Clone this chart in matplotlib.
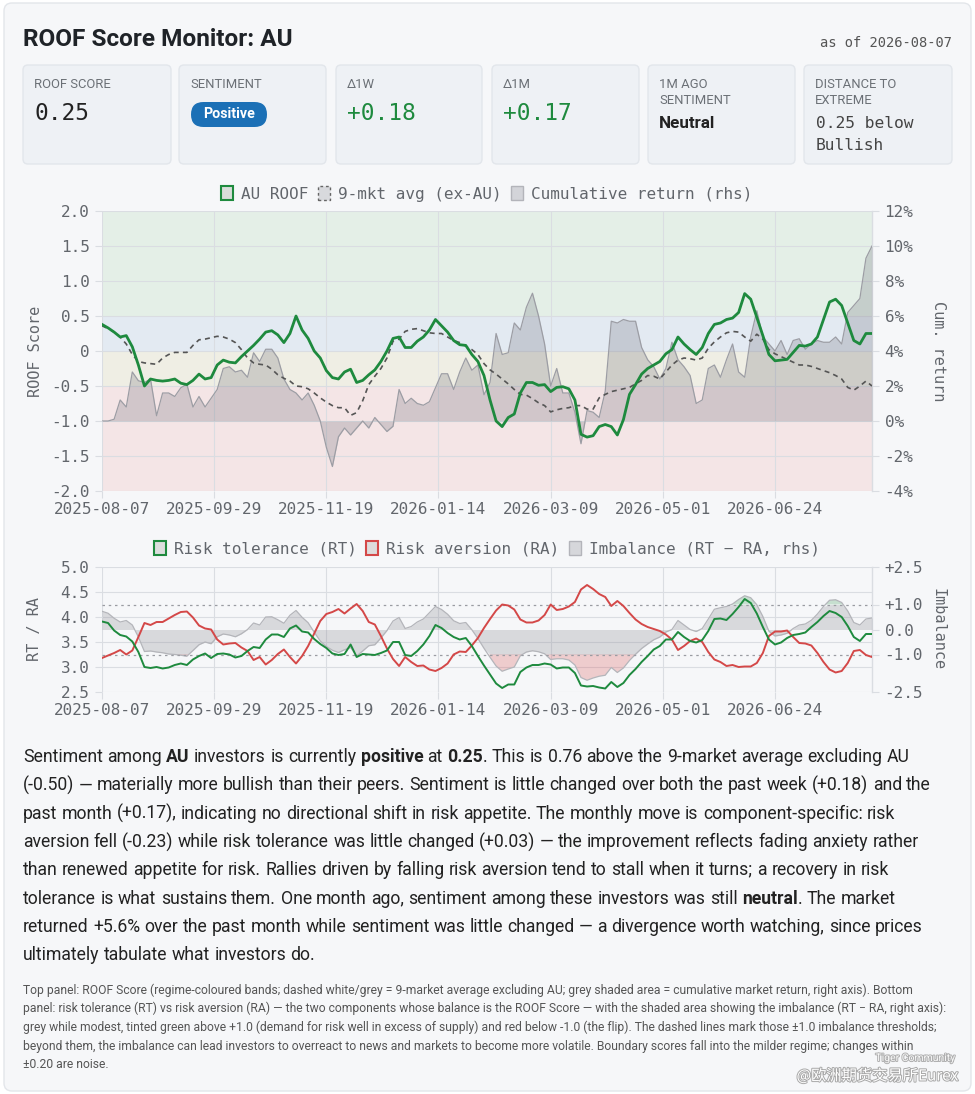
import re
import numpy as np
import pandas as pd
import matplotlib
matplotlib.use("Agg")
import matplotlib.pyplot as plt
from matplotlib import font_manager
from matplotlib.patches import FancyBboxPatch, Rectangle, Patch
from matplotlib.transforms import blended_transform_factory
import matplotlib.patheffects as pe

W, H = 975, 1094
MONO = "DejaVu Sans Mono"
plt.rcParams["font.family"] = MONO
plt.rcParams["axes.unicode_minus"] = False


def pick_sans():
    # first family that really has both a regular and a bold face
    faces = {}
    for f in font_manager.fontManager.ttflist:
        w = f.weight if isinstance(f.weight, int) else 400
        faces.setdefault(f.name, set()).add(w)
    for name in ["IBM Plex Sans", "Roboto", "Inter", "Open Sans", "Lato",
                 "Noto Sans", "Liberation Sans", "DejaVu Sans"]:
        ws = faces.get(name, set())
        if any(w <= 450 for w in ws) and any(w >= 600 for w in ws):
            return name
    return "DejaVu Sans"


SANS = pick_sans()

# ---------------------------------------------------------------- data
# ASX sessions, one value read every second session
START, END = "2025-08-07", "2026-08-07"
ASX_HOLIDAYS = ["2025-12-25", "2025-12-26", "2026-01-01", "2026-01-26",
                "2026-04-03", "2026-04-06", "2026-06-08"]
STEP = 2
TICK_EVERY = 37

roof = [0.38, 0.33, 0.27, 0.20, 0.22, 0.06, -0.20, -0.50, -0.40, -0.42, -0.43, -0.42, -0.40, -0.46, -0.48, -0.42,
        -0.33, -0.40, -0.38, -0.20, -0.13, -0.16, -0.17, -0.08, 0.00, 0.08, 0.17, 0.27, 0.29, 0.23, 0.12, 0.25,
        0.50, 0.30, 0.18, 0.00, -0.10, -0.28, -0.38, -0.40, -0.30, -0.26, -0.45, -0.42, -0.34, -0.27, -0.15, 0.00,
        0.18, 0.20, 0.05, 0.05, 0.14, 0.20, 0.30, 0.45, 0.36, 0.27, 0.15, 0.09, 0.08, -0.05, -0.15, -0.35,
        -0.70, -1.00, -1.08, -0.95, -0.90, -0.60, -0.45, -0.45, -0.49, -0.48, -0.58, -0.52, -0.51, -0.54, -0.70, -1.19,
        -1.23, -1.21, -1.08, -1.05, -1.08, -1.20, -0.98, -0.62, -0.48, -0.33, -0.25, -0.20, -0.15, -0.04, 0.02, 0.20,
        0.10, 0.02, -0.05, 0.05, 0.25, 0.38, 0.40, 0.45, 0.47, 0.55, 0.82, 0.74, 0.48, 0.22, -0.05, -0.14,
        -0.13, -0.12, -0.02, 0.08, 0.07, 0.10, 0.20, 0.45, 0.70, 0.74, 0.65, 0.40, 0.15, 0.10, 0.25, 0.25]

avg_ex_au = [0.36, 0.32, 0.27, 0.20, 0.10, -0.05, -0.15, -0.17, -0.18, -0.19, -0.10, -0.05, -0.02, -0.02, -0.02, 0.08,
             0.16, 0.17, 0.19, 0.21, 0.20, 0.17, 0.12, 0.02, -0.10, -0.17, -0.19, -0.20, -0.26, -0.34, -0.39, -0.43,
             -0.50, -0.51, -0.54, -0.60, -0.67, -0.73, -0.78, -0.81, -0.81, -0.92, -0.88, -0.71, -0.48, -0.36, -0.25, -0.10,
             0.14, 0.17, 0.28, 0.31, 0.32, 0.29, 0.26, 0.25, 0.25, 0.20, 0.15, 0.12, 0.07, 0.02, -0.05, -0.18,
             -0.27, -0.33, -0.40, -0.47, -0.55, -0.62, -0.63, -0.68, -0.74, -0.78, -0.87, -0.84, -0.82, -0.81, -0.78, -0.78,
             -0.83, -0.83, -0.67, -0.62, -0.58, -0.56, -0.54, -0.52, -0.47, -0.42, -0.35, -0.36, -0.40, -0.30, -0.20, -0.13,
             -0.10, -0.11, -0.13, -0.10, 0.04, 0.13, 0.20, 0.26, 0.28, 0.27, 0.20, 0.14, 0.24, 0.17, 0.02, -0.04,
             -0.08, -0.12, -0.16, -0.20, -0.20, -0.22, -0.25, -0.28, -0.31, -0.35, -0.40, -0.52, -0.56, -0.50, -0.43, -0.50]

cum_return = [0.0, 0.0, 0.1, 1.2, 0.8, 2.8, 2.3, 2.2, 2.4, 0.3, 1.6, 1.6, 1.4, 1.9, 2.1, 0.8,
              1.4, 0.8, 1.3, 1.8, 3.0, 3.1, 2.8, 2.9, 2.5, 3.9, 3.4, 4.1, 4.1, 3.6, 2.4, 1.8,
              1.6, 1.2, 1.6, 0.9, 0.0, -1.5, -2.6, -0.9, -0.4, -0.8, -0.4, 0.0, -0.4, 0.2, -0.2, -0.6,
              -0.3, 1.8, 1.0, 1.3, 1.0, 0.9, 1.1, 1.9, 2.7, 2.7, 1.8, 2.8, 3.6, 2.9, 3.2, 1.5,
              2.2, 5.0, 3.8, 3.9, 5.6, 5.2, 6.5, 7.3, 6.0, 4.4, 2.0, 3.0, 1.6, 1.6, 0.5, -1.3,
              0.6, 0.5, 0.2, 1.7, 5.7, 5.6, 5.8, 5.7, 5.7, 4.2, 3.5, 3.1, 2.4, 3.0, 4.5, 3.5,
              3.1, 2.6, 1.0, 1.2, 3.0, 3.2, 2.5, 3.5, 4.4, 2.8, 2.5, 4.8, 6.3, 4.8, 4.4, 4.0,
              4.6, 3.8, 4.6, 4.7, 4.1, 4.4, 4.6, 4.5, 4.5, 4.8, 4.4, 6.2, 6.6, 7.0, 9.3, 10.0]

risk_tol = [3.91, 3.88, 3.73, 3.64, 3.61, 3.51, 3.30, 3.00, 2.98, 3.00, 2.97, 2.99, 3.04, 3.07, 3.04, 3.15,
            3.22, 3.27, 3.18, 3.26, 3.27, 3.25, 3.19, 3.22, 3.32, 3.40, 3.38, 3.55, 3.65, 3.65, 3.60, 3.77,
            3.83, 3.71, 3.69, 3.56, 3.46, 3.38, 3.27, 3.24, 3.26, 3.45, 3.20, 3.26, 3.25, 3.24, 3.28, 3.33,
            3.50, 3.50, 3.24, 3.22, 3.32, 3.45, 3.62, 3.84, 3.78, 3.68, 3.60, 3.55, 3.58, 3.42, 3.22, 3.03,
            2.85, 2.67, 2.58, 2.65, 2.65, 2.90, 2.99, 3.04, 3.04, 3.07, 3.05, 2.97, 2.99, 2.99, 2.88, 2.63,
            2.61, 2.62, 2.59, 2.57, 2.70, 2.60, 2.68, 2.84, 2.96, 3.10, 3.22, 3.35, 3.42, 3.55, 3.55, 3.70,
            3.60, 3.52, 3.49, 3.54, 3.72, 3.96, 3.97, 3.94, 4.06, 4.20, 4.36, 4.28, 4.07, 3.80, 3.55, 3.45,
            3.49, 3.58, 3.64, 3.66, 3.69, 3.80, 3.90, 4.02, 4.12, 4.08, 4.00, 3.82, 3.60, 3.52, 3.66, 3.66]

risk_av = [3.18, 3.23, 3.28, 3.34, 3.25, 3.33, 3.60, 3.88, 3.84, 3.90, 3.90, 3.97, 4.04, 4.10, 4.11, 3.99,
           3.83, 3.77, 3.75, 3.55, 3.45, 3.47, 3.48, 3.39, 3.32, 3.14, 3.20, 3.05, 3.14, 3.26, 3.35, 3.20,
           3.07, 3.22, 3.42, 3.67, 3.92, 4.06, 4.10, 4.16, 4.07, 4.17, 4.26, 4.12, 3.90, 3.85, 3.62, 3.37,
           3.16, 3.02, 3.20, 3.10, 3.02, 3.03, 2.95, 2.92, 2.98, 3.07, 3.25, 3.31, 3.30, 3.43, 3.58, 3.78,
           3.96, 4.13, 4.25, 4.23, 4.15, 3.95, 3.89, 3.89, 3.93, 4.04, 4.25, 4.14, 4.16, 4.21, 4.30, 4.55,
           4.64, 4.56, 4.46, 4.40, 4.22, 4.32, 4.22, 4.08, 3.95, 3.86, 3.80, 3.76, 3.72, 3.65, 3.55, 3.34,
           3.42, 3.52, 3.57, 3.50, 3.30, 3.15, 3.10, 3.02, 3.04, 3.00, 3.01, 3.01, 3.08, 3.28, 3.62, 3.71,
           3.71, 3.73, 3.60, 3.48, 3.47, 3.43, 3.28, 3.10, 2.95, 2.89, 2.92, 3.08, 3.32, 3.34, 3.24, 3.20]

kpi_labels = [["ROOF SCORE"], ["SENTIMENT"], ["Δ1W"], ["Δ1M"],
              ["1M AGO", "SENTIMENT"], ["DISTANCE TO", "EXTREME"]]

paragraph = [
    "Sentiment among **AU** investors is currently **positive** at **0.25**. This is 0.76 above the 9-market average excluding AU",
    "(-0.50) — materially more bullish than their peers. Sentiment is little changed over both the past week (+0.18) and the",
    "past month (+0.17), indicating no directional shift in risk appetite. The monthly move is component-specific: risk",
    "aversion fell (-0.23) while risk tolerance was little changed (+0.03) — the improvement reflects fading anxiety rather",
    "than renewed appetite for risk. Rallies driven by falling risk aversion tend to stall when it turns; a recovery in risk",
    "tolerance is what sustains them. One month ago, sentiment among these investors was still **neutral**. The market",
    "returned +5.6% over the past month while sentiment was little changed — a divergence worth watching, since prices",
    "ultimately tabulate what investors do.",
]

footnote = [
    "Top panel: ROOF Score (regime-coloured bands; dashed white/grey = 9-market average excluding AU; grey shaded area = cumulative market return, right axis). Bottom",
    "panel: risk tolerance (RT) vs risk aversion (RA) — the two components whose balance is the ROOF Score — with the shaded area showing the imbalance (RT − RA, right axis):",
    "grey while modest, tinted green above +1.0 (demand for risk well in excess of supply) and red below -1.0 (the flip). The dashed lines mark those ±1.0 imbalance thresholds;",
    "beyond them, the imbalance can lead investors to overreact to news and markets to become more volatile. Boundary scores fall into the milder regime; changes within",
    "±0.20 are noise.",
]

# ---------------------------------------------------------------- style
PAGE = "#f6f7f9"
CARD = "#eef1f5"
GRID = "#dadde2"
TICK = "#62666c"
GREEN = "#1e8a3e"
RED = "#d44848"
BANDS = [(0.5, 2.0, "#e4efe7"), (0.0, 0.5, "#e3eaf2"),
         (-0.5, 0.0, "#efeee4"), (-2.0, -0.5, "#f4e5e6")]

cal = pd.bdate_range(START, END, freq="C", holidays=ASX_HOLIDAYS)
pos = np.arange(0, len(cal), STEP)
tick_pos = np.arange(0, len(cal), TICK_EVERY)
tick_lab = [d.strftime("%Y-%m-%d") for d in cal[tick_pos]]
imbalance = np.array(risk_tol) - np.array(risk_av)


def rect(x0, y0, x1, y1):
    return [x0 / W, 1 - y1 / H, (x1 - x0) / W, (y1 - y0) / H]


fig = plt.figure(figsize=(W / 100, H / 100), dpi=100, facecolor="white")
renderer = fig.canvas.get_renderer()

bg = fig.add_axes([0, 0, 1, 1])
bg.set_xlim(0, W)
bg.set_ylim(H, 0)
bg.axis("off")
bg.add_patch(FancyBboxPatch((4, 3), W - 8, H - 6, boxstyle="round,pad=0,rounding_size=8",
                            fc=PAGE, ec="#e3e6ea", lw=1))


def fitted(text, target, family, weight="normal", base=10.0):
    t = bg.text(0, 0, text, fontsize=base, family=family, weight=weight)
    w = t.get_window_extent(renderer).width
    t.remove()
    return base * target / w


# ---------------------------------------------------------------- header
ts = fitted("ROOF Score Monitor: AU", 270, SANS, "bold")
bg.text(23, 40, "ROOF Score Monitor: AU", fontsize=ts, family=SANS, weight="bold",
        color="#1f2328", va="center")
bg.text(952, 43, "as of 2026-08-07", fontsize=9.9, color="#555", ha="right", va="center")

card_x = [(23, 171), (179, 326), (336, 482), (492, 639), (648, 795), (804, 952)]
for (x0, x1), labs in zip(card_x, kpi_labels):
    bg.add_patch(FancyBboxPatch((x0, 65), x1 - x0, 99, boxstyle="round,pad=0,rounding_size=5",
                                fc=CARD, ec="#e2e6eb", lw=1))
    for k, lab in enumerate(labs):
        bg.text(x0 + 11, 84 + 17 * k, lab, fontsize=9.4, family=SANS, color="#6b7076", va="center")

bg.text(34, 113, "0.25", fontsize=16.5, color="#222", va="center")
bg.add_patch(FancyBboxPatch((191, 102), 76, 25, boxstyle="round,pad=0,rounding_size=12.5",
                            fc="#1b70b6", ec="none"))
bg.text(229, 114.5, "Positive", fontsize=fitted("Positive", 52, SANS, "bold"), family=SANS,
        weight="bold", color="white", ha="center", va="center")
bg.text(347, 113, "+0.18", fontsize=16.5, color=GREEN, va="center")
bg.text(503, 113, "+0.17", fontsize=16.5, color=GREEN, va="center")
bg.text(659, 123, "Neutral", fontsize=fitted("Neutral", 56, SANS, "bold"), family=SANS,
        weight="bold", color="#222", va="center")
bg.text(816, 123, "0.25 below", fontsize=11.7, color="#444", va="center")
bg.text(816, 145, "Bullish", fontsize=11.7, color="#444", va="center")

# ---------------------------------------------------------------- top panel
ax = fig.add_axes(rect(102, 211, 872, 491))
axc = ax.twinx()
ax.set_zorder(3)
axc.set_zorder(2)
ax.patch.set_visible(False)
axc.patch.set_visible(True)
axc.patch.set_facecolor(PAGE)

tb = blended_transform_factory(axc.transAxes, ax.transData)
for lo, hi, c in BANDS:
    axc.add_patch(Rectangle((0, lo), 1, hi - lo, transform=tb, fc=c, ec="none", zorder=0))
for tp in tick_pos:
    axc.axvline(tp, color=GRID, lw=0.8, zorder=0.6)
axc.axvline(len(cal) - 1, color=GRID, lw=1, zorder=0.6, clip_on=False)
axc.fill_between(pos, 0, cum_return, color=(0.46, 0.46, 0.50, 0.27), lw=0, zorder=1)
axc.plot(pos, cum_return, color="#9c9da4", lw=0.9, zorder=1.1)
axc.set_axisbelow(True)
axc.yaxis.grid(True, color=GRID, lw=0.8)
axc.set_ylim(-4, 12)
axc.set_yticks(np.arange(-4, 12.1, 2))
axc.set_yticklabels([f"{v:.0f}%" for v in np.arange(-4, 12.1, 2)])

ax.plot(pos, avg_ex_au, color="#555", lw=1.2, ls=(0, (3, 2.5)), zorder=3)
ax.plot(pos, roof, color=GREEN, lw=2.0, zorder=4)
ax.set_xlim(0, len(cal) - 1)
ax.set_ylim(-2, 2)
yt = np.arange(-2, 2.01, 0.5)
ax.set_yticks(yt)
ax.set_yticklabels(["0" if abs(v) < 1e-9 else f"{v:.1f}" for v in yt])

# ---------------------------------------------------------------- bottom panel
ax2 = fig.add_axes(rect(102, 567, 872, 692))
ax2r = ax2.twinx()
ax2.set_zorder(3)
ax2r.set_zorder(2)
ax2.patch.set_visible(False)
ax2r.patch.set_visible(True)
ax2r.patch.set_facecolor(PAGE)

lt = np.arange(2.5, 5.01, 0.5)
tb2 = blended_transform_factory(ax2r.transAxes, ax2.transData)
for v in lt:
    ax2r.plot([0, 1], [v, v], transform=tb2, color=GRID, lw=0.8, zorder=0.5)
for tp in tick_pos:
    ax2r.axvline(tp, color=GRID, lw=0.8, zorder=0.6)
ax2r.axvline(len(cal) - 1, color=GRID, lw=1, zorder=0.6, clip_on=False)

ax2r.fill_between(pos, 0, np.clip(imbalance, -1, 1), color=(0.55, 0.55, 0.58, 0.28), lw=0, zorder=1)
ax2r.fill_between(pos, 1, imbalance, where=imbalance > 1, interpolate=True,
                  color=(0.12, 0.54, 0.24, 0.22), lw=0, zorder=1)
ax2r.fill_between(pos, -1, imbalance, where=imbalance < -1, interpolate=True,
                  color=(0.85, 0.30, 0.30, 0.25), lw=0, zorder=1)
ax2r.plot(pos, imbalance, color="#b4b5ba", lw=0.9, zorder=1.2)
for v in (1, -1):
    ax2r.axhline(v, color="#9a9ca2", lw=0.9, ls=(0, (2, 3)), zorder=1.5)
ax2r.set_ylim(-2.5, 2.5)
rt_ticks = [-2.5, -1.0, 0.0, 1.0, 2.5]
ax2r.set_yticks(rt_ticks)
ax2r.set_yticklabels(["-2.5", "-1.0", "0.0", "+1.0", "+2.5"])

ax2.plot(pos, risk_av, color=RED, lw=1.4, zorder=3)
ax2.plot(pos, risk_tol, color=GREEN, lw=1.4, zorder=4)
ax2.set_xlim(0, len(cal) - 1)
ax2.set_ylim(2.5, 5.0)
ax2.set_yticks(lt)
ax2.set_yticklabels([f"{v:.1f}" for v in lt])

for a in (ax, axc, ax2, ax2r):
    for s in a.spines.values():
        s.set_visible(False)
    a.tick_params(length=5, width=0.8, color=GRID, labelcolor=TICK, labelsize=11.5, pad=4)
for a in (ax, ax2):
    a.set_xticks(tick_pos)
    a.set_xticklabels(tick_lab)
    a.tick_params(axis="x", pad=3)

# axis titles
bg.text(35, 351, "ROOF Score", rotation=90, fontsize=11, color=TICK, ha="center", va="center")
bg.text(939, 351, "Cum. return", rotation=270, fontsize=11, color=TICK, ha="center", va="center")
bg.text(35, 629, "RT / RA", rotation=90, fontsize=11, color=TICK, ha="center", va="center")
bg.text(938, 629, "Imbalance", rotation=270, fontsize=11, color=TICK, ha="center", va="center")

# legends
leg_kw = dict(loc="center", ncol=3, frameon=False, fontsize=11.5, handlelength=0.75,
              handleheight=1.0, handletextpad=0.5, columnspacing=0.6, labelcolor=TICK,
              borderpad=0, borderaxespad=0)
fig.legend(handles=[Patch(fc="#d9ddda", ec=GREEN, lw=1.5, label="AU ROOF"),
                    Patch(fc="#d8d9dd", ec="#666", lw=1.0, ls=(0, (2, 2)), label="9-mkt avg (ex-AU)"),
                    Patch(fc="#d3d4d9", ec="#b3b4ba", lw=1.0, label="Cumulative return (rhs)")],
           bbox_to_anchor=(487 / W, 1 - 194 / H), **leg_kw)
fig.legend(handles=[Patch(fc="#dcdedd", ec=GREEN, lw=1.5, label="Risk tolerance (RT)"),
                    Patch(fc="#dedcdc", ec=RED, lw=1.5, label="Risk aversion (RA)"),
                    Patch(fc="#d6d7db", ec="#b3b4ba", lw=1.0, label="Imbalance (RT − RA, rhs)")],
           bbox_to_anchor=(487 / W, 1 - 549 / H), **leg_kw)

# ---------------------------------------------------------------- commentary
def rich_line(x, y, markup, size, color):
    a = bg.text(0, 0, "a a", fontsize=size, family=SANS)
    b = bg.text(0, 0, "aa", fontsize=size, family=SANS)
    sp = a.get_window_extent(renderer).width - b.get_window_extent(renderer).width
    a.remove()
    b.remove()
    for part in re.split(r"(\*\*.*?\*\*)", markup):
        if not part:
            continue
        bold = part.startswith("**")
        seg = part.strip("*") if bold else part
        for tok in re.split(r"(\s+)", seg):
            if not tok:
                continue
            if tok.isspace():
                x += sp * len(tok)
                continue
            t = bg.text(x, y, tok, fontsize=size, family=SANS, color=color,
                        weight="bold" if bold else "normal", va="center_baseline")
            x += t.get_window_extent(renderer).width


ps = fitted(paragraph[1], 909, SANS)
for k, line in enumerate(paragraph):
    rich_line(23, 755 + k * 28.3, line, ps, "#222")

fs = fitted(footnote[1], 927, SANS)
for k, line in enumerate(footnote):
    bg.text(23, 990 + k * 18.7, line, fontsize=fs, family=SANS, color="#555", va="center")

# watermark
wm = [pe.withStroke(linewidth=1.4, foreground="#a8a8a8")]
bg.text(955, 1058, "Tiger Community", fontsize=7.5, family=SANS, color="white", ha="right",
        va="center", path_effects=wm, alpha=0.9)
bg.text(958, 1076, "@欧洲期货交易所Eurex", fontsize=11, family=["Noto Sans CJK SC", "DejaVu Sans"],
        color="white", ha="right", va="center", path_effects=wm)

fig.savefig("out.png", dpi=100, facecolor=fig.get_facecolor())
